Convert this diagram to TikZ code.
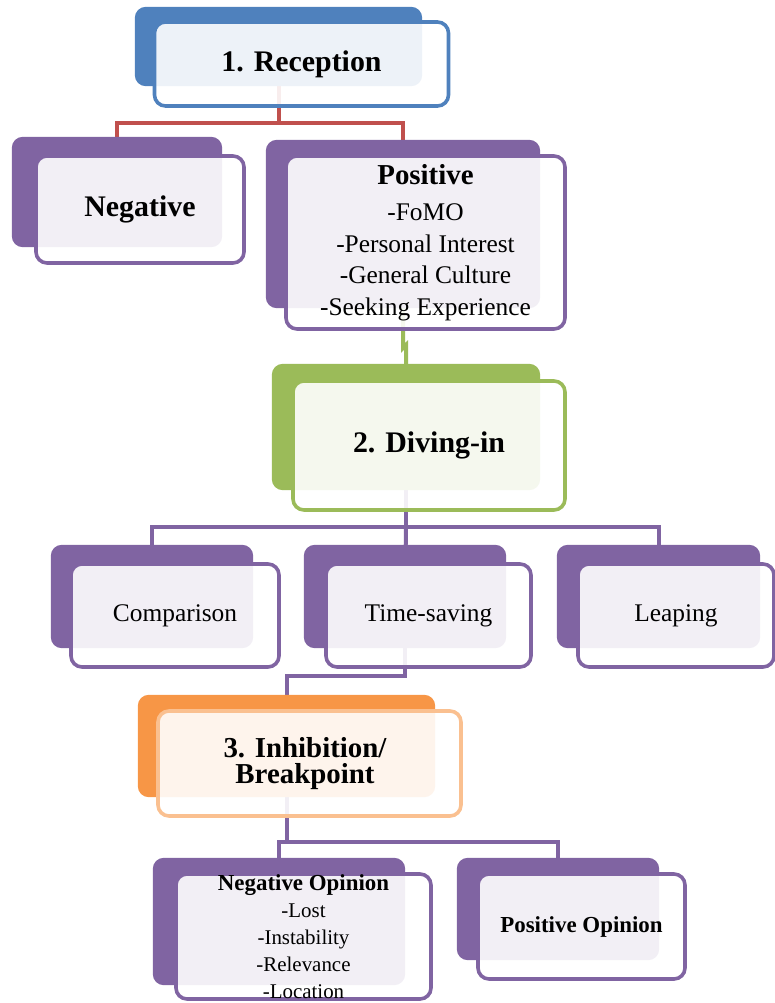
\documentclass[tikz,border=0pt]{standalone}
\usepackage{fontspec}
\setmainfont{Liberation Serif}
\definecolor{cblue}{HTML}{4F81BD}
\definecolor{cpurple}{HTML}{8064A2}
\definecolor{cgreen}{HTML}{9BBB59}
\definecolor{corange}{HTML}{F79646}
\definecolor{corangelight}{HTML}{FAC090}
\definecolor{cred}{HTML}{C0504D}
\tikzset{
  backbox/.style={draw=none, fill=#1, rounded corners=11bp, inner sep=0pt, outer sep=0pt},
  frontbox/.style={draw=#1, line width=3.6bp, fill=white, fill opacity=0.9, text opacity=1,
    rounded corners=11bp, inner sep=0pt, outer sep=0pt, align=center, text=black},
  conn/.style={draw=#1, line width=4bp},
  bigbold/.style={font=\fontsize{30}{34}\selectfont\bfseries},
  midtext/.style={font=\fontsize{25.5}{31.6}\selectfont},
}
\begin{document}
\begin{tikzpicture}[x=1bp, y=-1bp]
\useasboundingbox (0,0) rectangle (775,1003);
% junction heights
\coordinate (j1) at (0,123);
\coordinate (j2) at (0,348);
\coordinate (j3) at (0,527);
\coordinate (j4) at (0,676);
\coordinate (j5) at (0,842);
% back boxes as named nodes (filled later), positions defined first
\path
  node[minimum width=287bp, minimum height=79bp] (rb) at (278.5,46.5) {}
  node[minimum width=210bp, minimum height=110bp] (nb) at (117,192) {}
  node[minimum width=274bp, minimum height=168bp] (pb) at (403,224) {}
  node[minimum width=268bp, minimum height=126bp] (db) at (406,427) {}
  node[minimum width=202bp, minimum height=103bp] (cb) at (152,596.5) {}
  node[minimum width=202bp, minimum height=103bp] (tb) at (405,596.5) {}
  node[minimum width=203bp, minimum height=103bp] (lb) at (658.5,596.5) {}
  node[minimum width=297bp, minimum height=102bp] (ib) at (286.5,746) {}
  node[minimum width=252bp, minimum height=127bp] (nob) at (279,921.5) {}
  node[minimum width=202bp, minimum height=102bp] (pob) at (558,909) {};
% connectors
\draw[conn=cred] (rb.center) -- (rb.center |- j1) -| (nb.center);
\draw[conn=cred] (rb.center |- j1) -| (pb.center);
\draw[conn=cgreen] (pb.center) -- (pb.center |- j2) -- ([yshift=3bp]db.center |- j2) -- (db.center);
\draw[conn=cpurple] (db.center) -- (db.center |- j3) -| (cb.center);
\draw[conn=cpurple] (db.center |- j3) -| (lb.center);
\draw[conn=cpurple] (db.center |- j3) -- (tb.center);
\draw[conn=cpurple] (tb.center) -- (tb.center |- j4) -| (ib.center);
\draw[conn=cpurple] (ib.center) -- (ib.center |- j5) -| (nob.center);
\draw[conn=cpurple] (ib.center |- j5) -| (pob.center);
% Reception
\fill[backbox=cblue] (rb.north west) rectangle (rb.south east);
\node[frontbox=cblue, minimum width=294bp, minimum height=84bp, bigbold] (rf) at (301.5,64) {\raisebox{-2bp}{1. Reception}};
% Negative
\fill[backbox=cpurple] (nb.north west) rectangle (nb.south east);
\node[frontbox=cpurple, minimum width=208bp, minimum height=107bp, bigbold] (nf) at (140,209.5) {\raisebox{-2bp}{Negative}};
% Positive
\fill[backbox=cpurple] (pb.north west) rectangle (pb.south east);
\node[frontbox=cpurple, minimum width=279bp, minimum height=173bp, midtext] (pf) at (425.5,242.5)
  {{\fontsize{29}{34}\selectfont\bfseries Positive}\\[5bp] -FoMO\\ -Personal Interest\\ -General Culture\\ -Seeking Experience};
% Diving-in
\fill[backbox=cgreen] (db.north west) rectangle (db.south east);
\node[frontbox=cgreen, minimum width=272bp, minimum height=129bp, bigbold] (df) at (429,445.5) {2. Diving-in};
% Comparison, Time-saving, Leaping
\fill[backbox=cpurple] (cb.north west) rectangle (cb.south east);
\node[frontbox=cpurple, minimum width=208bp, minimum height=103bp, midtext] (cf) at (175,615.5) {Comparison};
\fill[backbox=cpurple] (tb.north west) rectangle (tb.south east);
\node[frontbox=cpurple, minimum width=205bp, minimum height=103bp, midtext] (tf) at (428.5,615.5) {Time-saving};
\fill[backbox=cpurple] (lb.north west) rectangle (lb.south east);
\node[frontbox=cpurple, minimum width=196bp, minimum height=103bp, midtext] (lf) at (676,615.5) {Leaping};
% Inhibition
\fill[backbox=corange] (ib.north west) rectangle (ib.south east);
\node[frontbox=corangelight, minimum width=303bp, minimum height=105bp, font=\fontsize{29}{27}\selectfont\bfseries] (if) at (309.5,763.5) {\hspace*{-9bp}3. Inhibition/\\\hspace*{-9bp}Breakpoint};
% Negative Opinion
\fill[backbox=cpurple] (nob.north west) rectangle (nob.south east);
\node[frontbox=cpurple, minimum width=255bp, minimum height=125bp, font=\fontsize{21}{27}\selectfont] (nof) at (303.5,936.5)
  {{\fontsize{23}{27}\selectfont\bfseries Negative Opinion}\\ -Lost\\ -Instability\\ -Relevance\\ -Location};
% Positive Opinion
\fill[backbox=cpurple] (pob.north west) rectangle (pob.south east);
\node[frontbox=cpurple, minimum width=207bp, minimum height=105bp, font=\fontsize{23}{27}\selectfont\bfseries] (pof) at (581.5,926.5) {Positive Opinion};
\end{tikzpicture}
\end{document}
